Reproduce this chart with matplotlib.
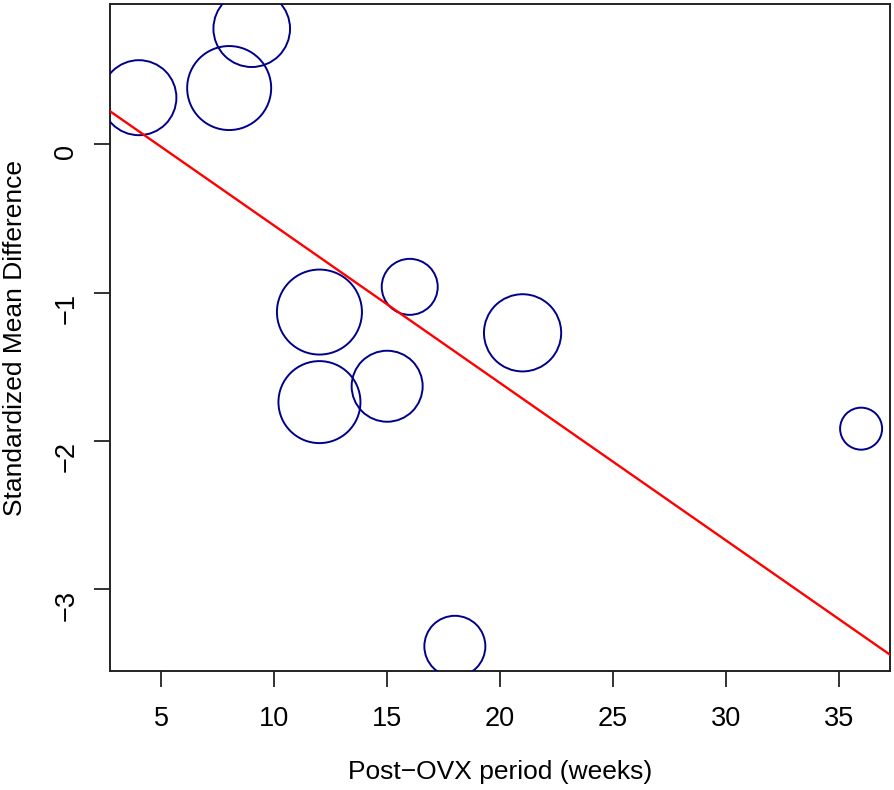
import matplotlib
matplotlib.use("Agg")
import matplotlib.pyplot as plt
import numpy as np

# ---- data ----
weeks = [4, 8, 9, 12, 12, 15, 16, 18, 21, 36]
smd = [0.315, 0.38, 0.78, -1.13, -1.737, -1.63, -0.96, -3.383, -1.27, -1.916]
# relative study weights (bubble radius proportional to these)
rel_weight = [37.5, 42.0, 38.3, 42.5, 41.0, 35.5, 28.0, 30.5, 38.6, 21.0]
# meta-regression fit
fit_intercept = 0.512
fit_slope = -0.106

xticks = [5, 10, 15, 20, 25, 30, 35]
yticks = [0, -1, -2, -3]
xlabel = "Post\u2212OVX period (weeks)"
ylabel = "Standardized Mean Difference"

# ---- figure ----
plt.rcParams['font.family'] = ['Liberation Sans', 'DejaVu Sans']
DPI = 100
fig = plt.figure(figsize=(8.94, 7.90), dpi=DPI)
ax = fig.add_axes([110/894, 1-671/790, 780/894, 667/790])

# R-style 4% range extension
xmin, xmax = min(weeks), max(weeks)
ymin, ymax = min(smd), max(smd)
dx = (xmax - xmin) * 0.04
dy = (ymax - ymin) * 0.04
ax.set_xlim(xmin - dx, xmax + dx)
ax.set_ylim(ymin - dy, ymax + dy)

# bubbles: radius in pixels -> marker size in points^2
radius_px = np.array(rel_weight) * 1.0
diam_pt = 2 * radius_px * 72.0 / DPI
ax.scatter(weeks, smd, s=diam_pt**2, facecolors='none', edgecolors='#00008B',
           linewidths=1.4, zorder=3)

xs = np.array(ax.get_xlim())
ax.plot(xs, fit_intercept + fit_slope * xs, color='#FF0000', lw=1.7, zorder=4)
ax.set_xlim(xmin - dx, xmax + dx)

ax.set_xticks(xticks)
ax.set_xticklabels([str(t) for t in xticks])
ax.set_yticks(yticks)
ax.set_yticklabels([str(t).replace('-', '\u2212') for t in yticks])

ax.tick_params(axis='both', direction='out', length=11.5, width=1.3,
               labelsize=19.5, color='#222222')
ax.tick_params(axis='x', pad=14)
ax.tick_params(axis='y', pad=20)
for lab in ax.get_yticklabels():
    lab.set_rotation(90)
    lab.set_va('center')
    lab.set_ha('right')
    lab.set_rotation_mode('anchor')

for sp in ax.spines.values():
    sp.set_linewidth(1.4)
    sp.set_color('#222222')

ax.set_xlabel(xlabel, fontsize=19, va='center')
ax.xaxis.set_label_coords(0.5, -(771.7 - 671) / 667)
ax.set_ylabel(ylabel, fontsize=19, va='center')
ax.yaxis.set_label_coords((15 - 110) / 780, 0.5)

fig.savefig("out.png", dpi=DPI)
